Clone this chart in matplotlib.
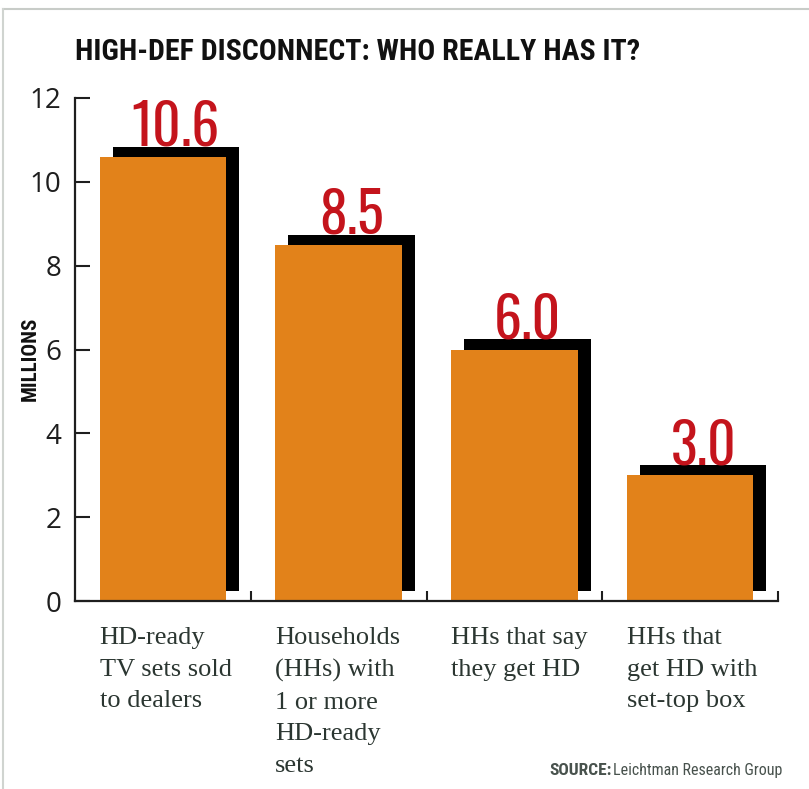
import matplotlib
matplotlib.use("Agg")
import matplotlib.pyplot as plt
from matplotlib.lines import Line2D
from matplotlib.transforms import blended_transform_factory

categories = ["HD-ready\nTV sets sold\nto dealers",
              "Households\n(HHs) with\n1 or more\nHD-ready\nsets",
              "HHs that say\nthey get HD",
              "HHs that\nget HD with\nset-top box"]
values = [10.6, 8.5, 6.0, 3.0]
value_labels = ["10.6", "8.5", "6.0", "3.0"]
yticks = [0, 2, 4, 6, 8, 10, 12]

narrow = ["Roboto Condensed", "Barlow Condensed", "Archivo Narrow", "Oswald", "DejaVu Sans"]
heavy = ["Oswald", "Anton", "DejaVu Sans"]
orange = "#e2821a"
red = "#c4141c"
ink = "#1e1e1e"

fig = plt.figure(figsize=(8.09, 7.89), dpi=100)
ax = fig.add_axes([75 / 809, 188 / 789, 703 / 809, 503 / 789])

x = range(len(values))
width = 0.72
dx, dy = 0.074, 0.24

# black shadow, shifted right and up
ax.bar([i + dx for i in x], values, width=width, bottom=dy, color="black", zorder=1)
ax.bar(x, values, width=width, color=orange, zorder=2)

for i, v, lab in zip(x, values, value_labels):
    ax.text(i + dx, v + dy + 0.02, lab, ha="center", va="baseline",
            fontsize=40, fontweight="bold", family=heavy, color=red, zorder=3)

ax.set_xlim(-0.5, 3.5)
ax.set_ylim(0, 12)
ax.set_yticks(yticks)
ax.set_yticklabels([str(t) for t in yticks], family="Open Sans", fontsize=20, color=ink)
ax.set_xticks([0.5, 1.5, 2.5, 3.5])
ax.set_xticklabels([])
ax.tick_params(axis="y", direction="in", length=11, width=1.5, pad=10, color=ink)
ax.tick_params(axis="x", direction="in", length=7, width=1.5, color=ink)
for s in ["top", "right"]:
    ax.spines[s].set_visible(False)
for s in ["left", "bottom"]:
    ax.spines[s].set_linewidth(1.6)
    ax.spines[s].set_color(ink)

trans = blended_transform_factory(ax.transData, ax.transAxes)
for i, cat in zip(x, categories):
    ax.text(i - width / 2, -0.052, cat, transform=trans, ha="left", va="top",
            family="Liberation Serif", fontsize=19, color="#2b3631",
            linespacing=1.56)

fig.text(75 / 809, 1 - 60 / 789, "HIGH-DEF DISCONNECT: WHO REALLY HAS IT?",
         family=narrow, fontweight="bold", fontsize=21.5, color="#111111",
         ha="left", va="baseline")
fig.text(30 / 809, 1 - 359 / 789, "MILLIONS", rotation=90, family=narrow,
         fontweight="bold", fontsize=15, color="#111111", ha="center", va="center")
fig.text(612 / 809, 1 - 775 / 789, "SOURCE:", family=narrow, fontweight="bold",
         fontsize=12.5, color="#48524d", ha="right", va="baseline")
fig.text(782 / 809, 1 - 775 / 789, "Leichtman Research Group", family=narrow,
         fontsize=11.5, color="#48524d", ha="right", va="baseline")

# thin frame of the clipping
fig.add_artist(Line2D([3 / 809, 1], [1 - 9 / 789, 1 - 9 / 789], color="#c8ccc8", lw=1.5))
fig.add_artist(Line2D([3 / 809, 3 / 809], [0, 1 - 9 / 789], color="#d0d4d0", lw=1.5))

fig.savefig("out.png", dpi=100, facecolor="white")
